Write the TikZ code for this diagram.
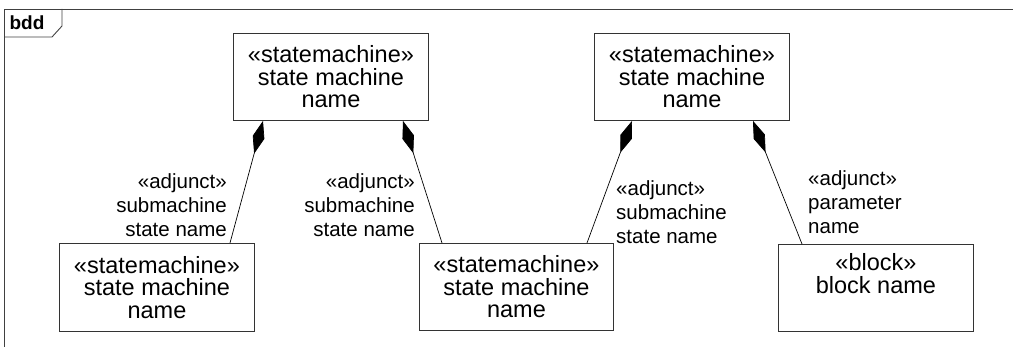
\documentclass[tikz,border=0pt]{standalone}
\usepackage{fontspec}
\setmainfont{Liberation Sans}
\usetikzlibrary{arrows.meta,calc}
\begin{document}
\begin{tikzpicture}[x=1pt,y=-1pt,
  box/.style={draw=black!80,line width=0.9pt,minimum width=195pt,minimum height=87pt,inner sep=0pt,align=center,font=\fontsize{23.5}{22.5}\selectfont,anchor=north west},
  lab/.style={inner sep=0pt,font=\fontsize{20.5}{24}\selectfont},
  comp/.style={draw=black,line width=0.7pt,{Diamond[length=34pt,width=12pt]}-},
  frame/.style={draw=black!75,line width=0.9pt}]
\useasboundingbox (0,0) rectangle (1013,347);
% frame
\draw[frame] (1030,9) -- (4,9) -- (4,360);
\draw[frame] (4,37) -- (52,37) -- (62,26) -- (62,9);
\node[inner sep=0pt,font=\bfseries\fontsize{19}{22}\selectfont] (bdd) at (27,23) {bdd};
% boxes
\node[box] (t1) at (233,33) {«statemachine»\\state machine\\name};
\node[box] (t2) at (594,33) {«statemachine»\\state machine\\name};
\node[box,minimum height=88pt] (b1) at (59,243) {«statemachine»\\state machine\\name};
\node[box,minimum width=194pt] (b2) at (419,243) {«statemachine»\\state machine\\name};
\node[box] (b3) at (778,244) {«block»\\block name\\\strut};
% connector ends
\coordinate (c1s) at ($(t1.south west)+(30,0)$);
\coordinate (c1e) at ($(b1.north west)+(171,0)$);
\coordinate (c2s) at ($(t1.south west)+(170,0)$);
\coordinate (c2e) at ($(b2.north west)+(23,0)$);
\coordinate (c3s) at ($(t2.south west)+(38,0)$);
\coordinate (c3e) at ($(b2.north west)+(168,0)$);
\coordinate (c4s) at ($(t2.south west)+(159,0)$);
\coordinate (c4e) at ($(b3.north west)+(24,0)$);
\draw[comp] (c1s) -- (c1e);
\draw[comp] (c2s) -- (c2e);
\draw[comp] (c3s) -- (c3e);
\draw[comp] (c4s) -- (c4e);
% labels
\node[lab,anchor=east,align=right] (l1) at (227,205) {«adjunct»\\submachine\\state name};
\node[lab,anchor=east,align=right] (l2) at (415,205) {«adjunct»\\submachine\\state name};
\node[lab,anchor=west,align=left] (l3) at (616,212) {«adjunct»\\submachine\\state name};
\node[lab,anchor=west,align=left] (l4) at (808,202) {«adjunct»\\parameter\\name};
\end{tikzpicture}
\end{document}
